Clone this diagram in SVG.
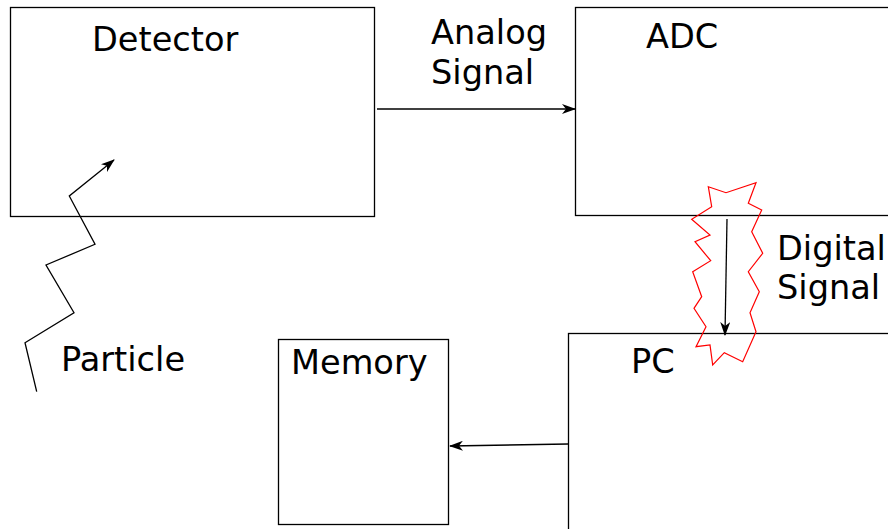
<svg xmlns="http://www.w3.org/2000/svg" width="888" height="529" viewBox="0 0 888 529">
<style>
.box{fill:#fff;stroke:#000;stroke-width:1.3}
.lbl{font-family:"DejaVu Sans",sans-serif;font-size:33.6px;fill:#000}
.ln{fill:none;stroke:#000;stroke-width:1.3}
</style>
<defs>
<marker id="ah" viewBox="0 0 14 10" refX="13" refY="5" markerWidth="14" markerHeight="10" markerUnits="userSpaceOnUse" orient="auto">
<path d="M0,0 L14,5 L0,10 L4,5 Z" fill="#000"/>
</marker>
</defs>
<rect width="888" height="529" fill="#fff"/>
<g id="detector">
<rect class="box" x="10.5" y="7.5" width="364" height="209"/>
<text class="lbl" x="92" y="51">Detector</text>
</g>
<g id="adc">
<rect class="box" x="575.5" y="7.5" width="320" height="208"/>
<text class="lbl" x="646" y="48">ADC</text>
</g>
<g id="pc">
<rect class="box" x="568.5" y="333.5" width="330" height="210"/>
<text class="lbl" x="631" y="373">PC</text>
</g>
<g id="memory">
<rect class="box" x="278.5" y="339.5" width="170" height="185"/>
<text class="lbl" x="291" y="374">Memory</text>
</g>
<g id="particle">
<text class="lbl" x="61" y="371">Particle</text>
</g>
<g id="digital-burst">
<polygon points="708.3,186.7 726,192.7 756,182.7 748.3,203.3 761.7,210 751.7,231.7 762.7,253.3 748.3,271.7 759.3,291.7 750,312.7 756,331.7 742.7,361.7 724.3,352.7 712.7,365 710,345 696,346.7 706,326.7 694,308.3 701.7,296.7 692.7,271.7 710.7,260.7 695,241.7 710,235 691.7,219.3 711.7,206.7" fill="none" stroke="#f00" stroke-width="1.2"/>
</g>
<g id="connectors">
<line class="ln" x1="377" y1="109" x2="575" y2="109" marker-end="url(#ah)"/>
<line class="ln" x1="727" y1="219" x2="725" y2="335" marker-end="url(#ah)"/>
<line class="ln" x1="568" y1="444" x2="450" y2="446" marker-end="url(#ah)"/>
<polyline class="ln" points="36.7,391.7 25,342.7 74,312.7 46,265 95,244.3 69.3,196 114,160" marker-end="url(#ah)"/>
</g>
<text class="lbl" x="431" y="44">Analog</text>
<text class="lbl" x="431" y="84">Signal</text>
<text class="lbl" x="777" y="260">Digital</text>
<text class="lbl" x="777" y="299">Signal</text>
</svg>
